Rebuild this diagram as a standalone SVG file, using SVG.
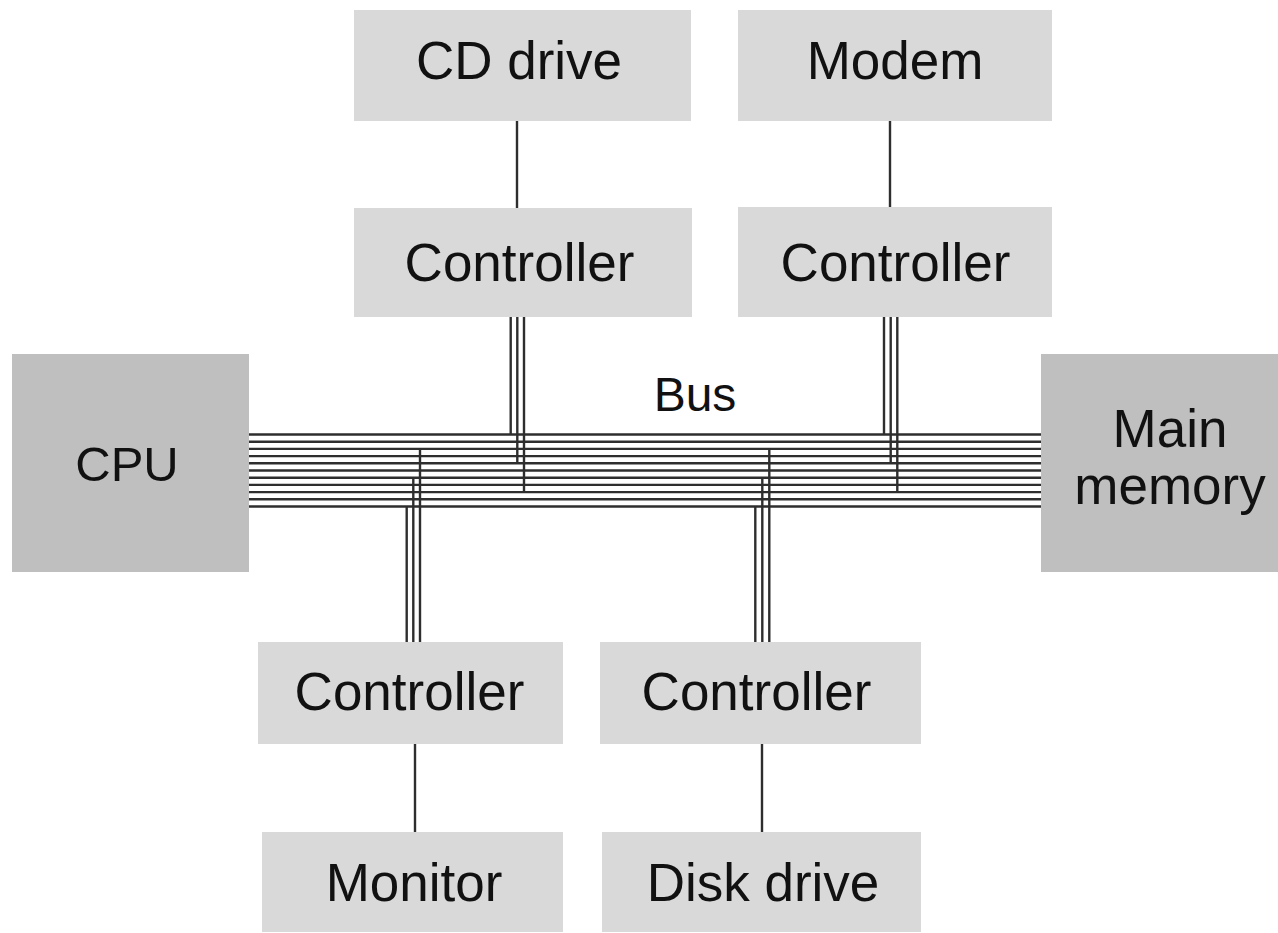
<svg xmlns="http://www.w3.org/2000/svg" width="1278" height="933" viewBox="0 0 1278 933">
<style>
.box{fill:#d9d9d9}
.dark{fill:#bfbfbf}
.t{font-family:"Liberation Sans",Arial,sans-serif;font-size:53px;fill:#111;text-anchor:middle}
.w{stroke:#2e2e2e;stroke-width:2.4;fill:none}
</style>
<rect width="1278" height="933" fill="#fff"/>
<g id="connectors" class="w">
<line x1="517" y1="121" x2="517" y2="208"/>
<line x1="890" y1="121" x2="890" y2="207"/>
<line x1="415" y1="744" x2="415" y2="832"/>
<line x1="762" y1="744" x2="762" y2="832"/>
<g id="bus">
<line x1="249" y1="434.5" x2="1041" y2="434.5"/>
<line x1="249" y1="441.7" x2="1041" y2="441.7"/>
<line x1="249" y1="448.9" x2="1041" y2="448.9"/>
<line x1="249" y1="456.1" x2="1041" y2="456.1"/>
<line x1="249" y1="463.3" x2="1041" y2="463.3"/>
<line x1="249" y1="470.5" x2="1041" y2="470.5"/>
<line x1="249" y1="477.7" x2="1041" y2="477.7"/>
<line x1="249" y1="484.9" x2="1041" y2="484.9"/>
<line x1="249" y1="492.1" x2="1041" y2="492.1"/>
<line x1="249" y1="499.3" x2="1041" y2="499.3"/>
<line x1="249" y1="506.5" x2="1041" y2="506.5"/>
</g>
<line x1="510.7" y1="317" x2="510.7" y2="434.5"/>
<line x1="517.3" y1="317" x2="517.3" y2="463.3"/>
<line x1="524" y1="317" x2="524" y2="492.1"/>
<line x1="884" y1="317" x2="884" y2="434.5"/>
<line x1="890.7" y1="317" x2="890.7" y2="463.3"/>
<line x1="897.3" y1="317" x2="897.3" y2="492.1"/>
<line x1="420" y1="448.9" x2="420" y2="642"/>
<line x1="413.3" y1="477.7" x2="413.3" y2="642"/>
<line x1="406.7" y1="506.5" x2="406.7" y2="642"/>
<line x1="769.3" y1="448.9" x2="769.3" y2="642"/>
<line x1="762.3" y1="477.7" x2="762.3" y2="642"/>
<line x1="755.3" y1="506.5" x2="755.3" y2="642"/>
</g>
<text class="t" x="695" y="411" style="font-size:48px">Bus</text>
<g id="cd-drive"><rect class="box" x="354" y="10" width="337" height="111"/><text class="t" x="519" y="79">CD drive</text></g>
<g id="modem"><rect class="box" x="738" y="10" width="314" height="111"/><text class="t" x="895" y="79">Modem</text></g>
<g id="ctrl-cd"><rect class="box" x="354" y="208" width="338" height="109"/><text class="t" x="519.5" y="281">Controller</text></g>
<g id="ctrl-modem"><rect class="box" x="738" y="207" width="314" height="110"/><text class="t" x="895.5" y="281">Controller</text></g>
<g id="cpu"><rect class="dark" x="12" y="354" width="237" height="218"/><text class="t" x="127" y="481" style="font-size:49px">CPU</text></g>
<g id="main-memory"><rect class="dark" x="1041" y="354" width="237" height="218"/><text class="t" x="1170" y="447">Main</text><text class="t" x="1170" y="504">memory</text></g>
<g id="ctrl-monitor"><rect class="box" x="258" y="642" width="305" height="102"/><text class="t" x="409.5" y="710">Controller</text></g>
<g id="ctrl-disk"><rect class="box" x="600" y="642" width="321" height="102"/><text class="t" x="756.5" y="710">Controller</text></g>
<g id="monitor"><rect class="box" x="262" y="832" width="301" height="100"/><text class="t" x="414" y="901">Monitor</text></g>
<g id="disk-drive"><rect class="box" x="602" y="832" width="319" height="100"/><text class="t" x="763" y="901">Disk drive</text></g>
</svg>
